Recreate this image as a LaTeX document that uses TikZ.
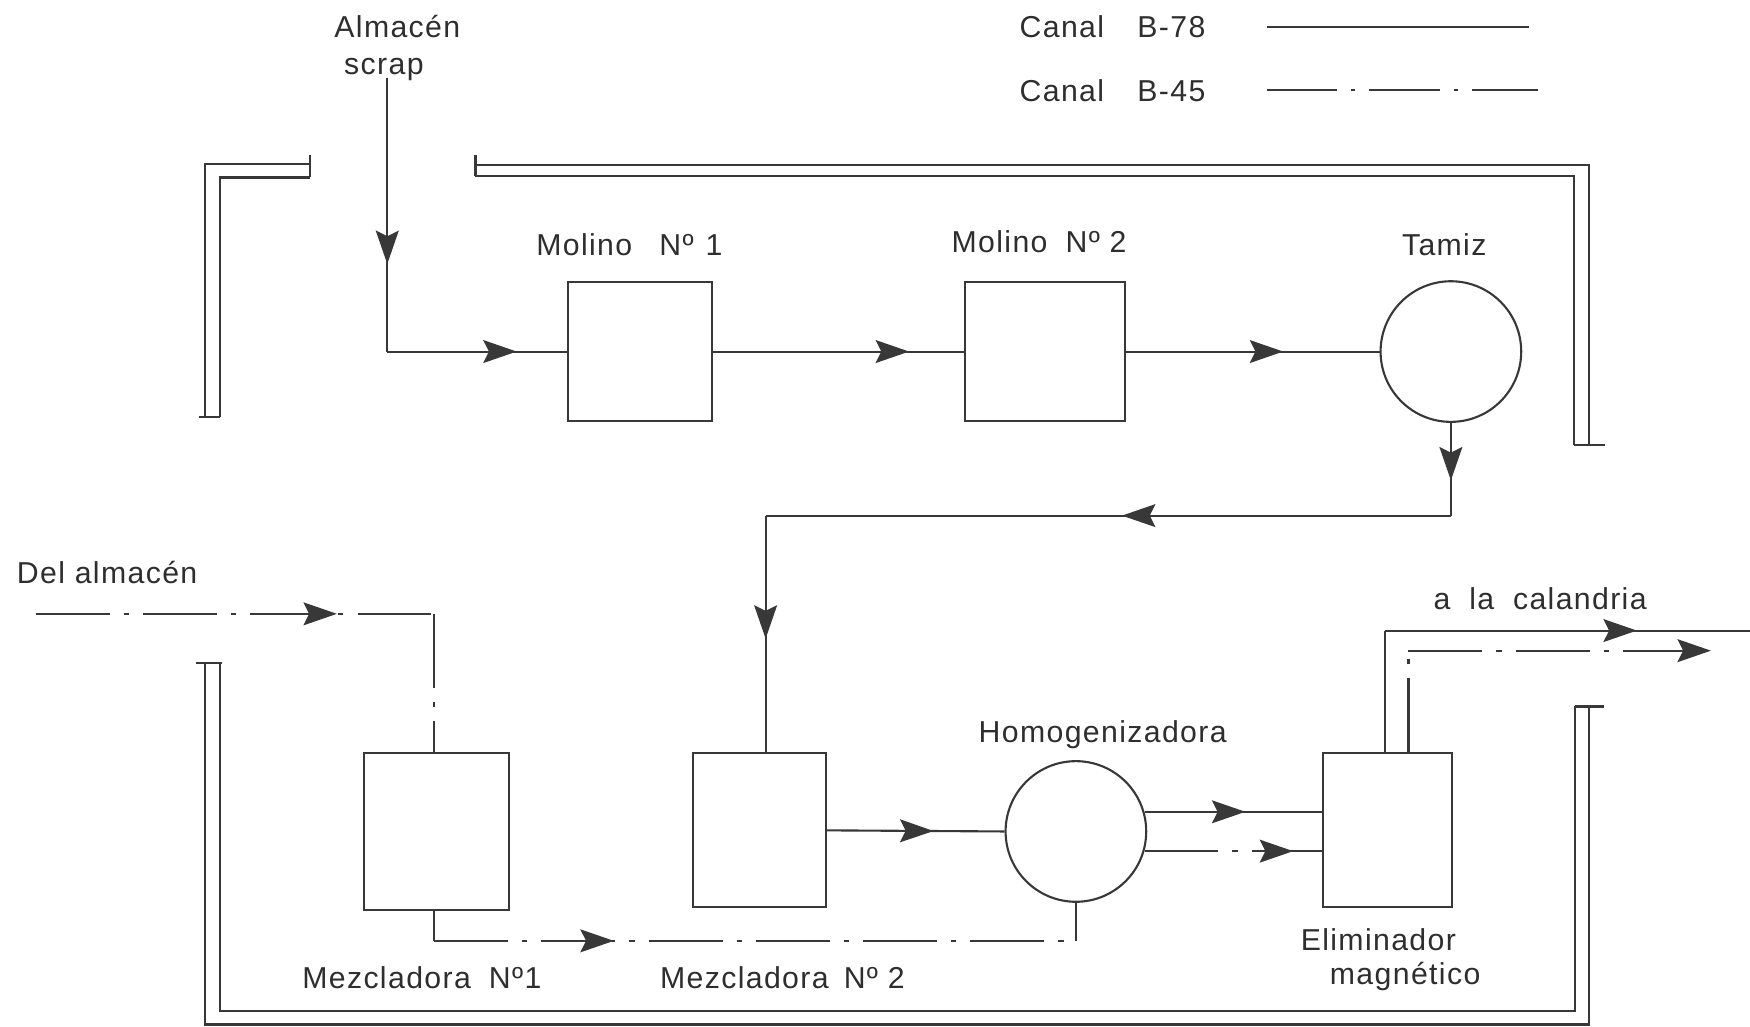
\documentclass[tikz,border=0pt]{standalone}
\usepackage{fontspec}
\setmainfont{Liberation Sans}[LetterSpace=4.5]
\usetikzlibrary{arrows.meta,decorations.markings,calc}
\def\upx{0.01116cm}
\tikzset{
  ln/.style={black!78, line width=0.6pt},
  dd/.style={ln, dash pattern=on 21pt off 4pt on 1.5pt off 4pt},
  box/.style={ln, rectangle, draw, inner sep=0pt},
  wheel/.style={ln, circle, draw, inner sep=0pt, minimum size=126*\upx},
  lbl/.style={text=black!82, font=\fontsize{8.6}{11}\selectfont, inner sep=0pt},
  midarr/.style={postaction={decorate}, decoration={markings,
      mark=at position #1 with {\arrow{Stealth[length=9.5pt,width=6.5pt,inset=1.6pt]}}}},
  endtip/.style={-{Stealth[length=9.5pt,width=6.5pt,inset=1.6pt]}},
}
\begin{document}
\begin{tikzpicture}[x=\upx, y=-\upx]
\useasboundingbox (0,0) rectangle (1568,920);

% ---- legend
\node[lbl, anchor=west] (lg1) at (913,24) {Canal\hspace{1.1em}B-78};
\node[lbl, anchor=west] (lg2) at (913,81) {Canal\hspace{1.1em}B-45};
\coordinate (l1a) at (1135,24); \coordinate (l1b) at (1370,24);
\coordinate (l2a) at (1135,81); \coordinate (l2b) at (1378,81);
\draw[ln] (l1a) -- (l1b);
\draw[ln, dash pattern=on 20pt off 4pt on 1.2pt off 4pt] (l2a) -- (l2b);

% ---- channels (double lines)
\draw[ln] (278,139) -- (278,159)
          (278,147) -- (184,147) -- (184,374)
          (278,159) -- (197,159) -- (197,374)
          (178,374) -- (197,374);
\draw[ln] (426,139) -- (426,158)
          (426,148) -- (1424,148) -- (1424,399)
          (426,158) -- (1410,158) -- (1410,399)
          (1410,399) -- (1438,399);
\draw[ln] (176,594) -- (199,594)
          (184,594) -- (184,918) -- (1424,918) -- (1424,633)
          (197,594) -- (197,906) -- (1411,906) -- (1411,633)
          (1411,633) -- (1437,633);

% ---- equipment
\node[box, minimum width=129*\upx, minimum height=125*\upx] (mo1) at (573.5,315) {};
\node[box, minimum width=143*\upx, minimum height=125*\upx] (mo2) at (936.5,315) {};
\node[wheel] (tam) at (1300,315) {};
\node[box, minimum width=130*\upx, minimum height=140*\upx] (mz1) at (391,745) {};
\node[box, minimum width=119*\upx, minimum height=138*\upx] (mz2) at (680.5,744) {};
\node[wheel] (hom) at (964,745) {};
\node[box, minimum width=116*\upx, minimum height=138*\upx] (eli) at (1243,744) {};

% ---- labels
\node[lbl] (t1) at (356,24) {Almacén};
\node[lbl] (t2) at (344,62) {scrap};
\node[lbl] (t3) at (564,219) {Molino\hspace{0.9em}Nº\hspace{0.4em}1};
\node[lbl] (t4) at (931,217) {Molino\hspace{0.6em}Nº 2};
\node[lbl] (t5) at (1294,219) {Tamiz};
\node[lbl] (t6) at (96,513) {Del almacén};
\node[lbl] (t7) at (1380,536) {a\hspace{0.3em} la\hspace{0.3em} calandria};
\node[lbl] (t8) at (988,658) {Homogenizadora};
\node[lbl] (t9) at (378,876) {Mezcladora\hspace{0.6em}Nº1};
\node[lbl] (t10) at (701,876) {Mezcladora\hspace{0.5em}Nº 2};
\node[lbl] (t11) at (1235,842) {Eliminador};
\node[lbl] (t12) at (1259,875) {magnético};

% ---- B-78 line (solid)
\coordinate (sc) at (347,70);
\coordinate (sk) at (347,315);
\draw[ln, midarr=0.68] (sc) -- (sk);
\draw[ln, midarr=0.72] (sk) -- (mo1.west);
\draw[ln, midarr=0.78] (mo1.east) -- (mo2.west);
\draw[ln, midarr=0.62] (mo2.east) -- (tam.west);
\coordinate (r1) at (1300,462);
\coordinate (r2) at (686,462);
\draw[ln, midarr=0.62] (tam.south) -- (r1);
\draw[ln, midarr=0.48] (r1) -- (r2);
\draw[ln, midarr=0.52] (r2) -- (r2 |- mz2.north);
\draw[ln, midarr=0.6] (mz2.east) -- (hom.west);
\draw[ln, midarr=0.57] (hom.16.6) -- (hom.16.6 -| eli.west);
\coordinate (e1) at (1241,565);
\coordinate (e2) at (1568,565);
\draw[ln] (e1 |- eli.north) -- (e1);
\draw[ln, midarr=0.69] (e1) -- (e2);

% ---- B-45 line (dash-dot)
\coordinate (da) at (32,550);
\coordinate (db) at (389,550);
\draw[dd, midarr=0.756] (da) -- (db);
\draw[dd] (db) -- (db |- mz1.north);
\coordinate (b1) at (389,843);
\coordinate (b2) at (964,843);
\draw[dd] (b1 |- mz1.south) -- (b1);
\draw[dd, midarr=0.28] (b1) -- (b2);
\draw[dd] (b2) -- (hom.south);
\draw[dd, midarr=0.84] (hom.-16) -- (hom.-16 -| eli.west);
\coordinate (f1) at (1262,583);
\coordinate (f2) at (1533,583);
\draw[dd] (f1 |- eli.north) -- (f1);
\draw[dd, endtip] (f1) -- (f2);
\end{tikzpicture}
\end{document}
